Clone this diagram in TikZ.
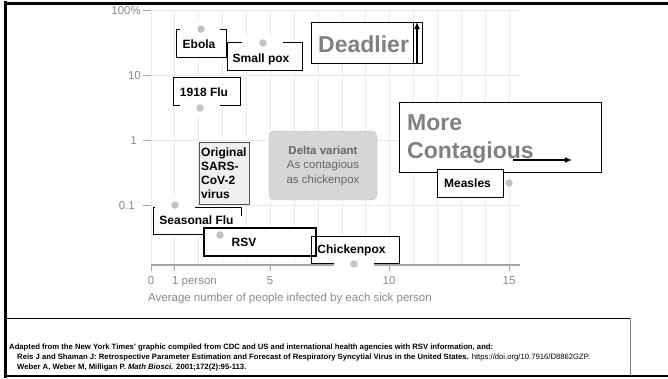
\documentclass[tikz,border=0pt]{standalone}
\usepackage{fontspec}
\setmainfont{Liberation Sans}
\usetikzlibrary{arrows.meta}
\definecolor{gridc}{HTML}{EBEBEB}
\definecolor{axisc}{HTML}{A5A5A5}
\definecolor{dotc}{HTML}{C2C2C2}
\definecolor{lblgray}{HTML}{808080}
\definecolor{axtxt}{HTML}{8A8A8A}
\definecolor{deltafill}{HTML}{D6D6D6}
\definecolor{deltaedge}{HTML}{B5B5B5}
\definecolor{deltatxt}{HTML}{666666}
\definecolor{sarsfill}{HTML}{EFEFEF}
\definecolor{sarsedge}{HTML}{555555}
\begin{document}
\begin{tikzpicture}[x=1pt,y=-1pt,
  lbl/.style={font=\bfseries\fontsize{12}{14}\selectfont, inner sep=0pt, anchor=base},
  labbox/.style={draw=black, fill=white, line width=0.9pt},
  dotpt/.style={circle, fill=dotc, minimum size=7.5pt, inner sep=0pt},
  patch/.style={fill=white, draw=none},
  big/.style={font=\bfseries\fontsize{23}{28}\selectfont, text=lblgray, inner sep=0pt, anchor=base west},
  axlab/.style={font=\fontsize{11.5}{13}\selectfont, text=axtxt, inner sep=0pt},
  cite/.style={font=\bfseries\fontsize{7.7}{9}\selectfont, inner sep=0pt, anchor=base west},
  bigarrow/.style={line width=2pt, -{Latex[length=7pt,width=6pt]}}
]
\useasboundingbox (0,0) rectangle (668,378);
\fill[white] (0,0) rectangle (668,378);

% grid
\foreach \k in {0,...,15} \draw[gridc, line width=0.8pt] ({151+23.87*\k},10) -- ({151+23.87*\k},265);
\foreach \y in {10,75,140,205} \draw[gridc, line width=0.8pt] (151,\y) -- (520,\y);
\foreach \y in {10,75,140,205} \draw[axisc, line width=0.8pt] (143,\y) -- (151,\y);
\draw[axisc, line width=1.5pt] (151,265) -- (520,265);
\foreach \v in {0,1,5,10,15} \draw[axisc, line width=1pt] ({151+23.87*\v},265) -- ({151+23.87*\v},271);

% axis labels
\node[axlab, anchor=base east] (y100) at (141,14.1) {100\%};
\node[axlab, anchor=base east] (y10) at (141,79.1) {10};
\node[axlab, anchor=base east] (y1) at (137,144.1) {1};
\node[axlab, anchor=base east] (y01) at (135,209.1) {0.1};
\node[axlab, anchor=base] (x0) at (151,284) {0};
\node[axlab, anchor=base] (x1) at (194.5,284) {1 person};
\node[axlab, anchor=base] (x5) at (270,284) {5};
\node[axlab, anchor=base] (x10) at (389,284) {10};
\node[axlab, anchor=base] (x15) at (509,284) {15};
\node[axlab, anchor=base] (xtitle) at (290,301) {Average number of people infected by each sick person};

% delta variant
\node[draw=deltaedge, dotted, line width=0.8pt, rounded corners=5pt, fill=deltafill,
      minimum width=108pt, minimum height=69pt, inner sep=0pt] (delta) at (323,165.5) {};
\node[font=\fontsize{11.5}{14.5}\selectfont, text=deltatxt, align=center, inner sep=0pt, anchor=north]
  (deltatext) at (323,145.6) {\textbf{Delta variant}\\As contagious\\as chickenpox};

% SARS box
\node[draw=sarsedge, fill=sarsfill, line width=0.8pt, minimum width=50pt, minimum height=62pt,
      inner sep=0pt, anchor=north west] (sarsbox) at (199,142) {};
\node[font=\bfseries\fontsize{12}{14}\selectfont, align=left, inner sep=0pt, anchor=north west]
  (sarstext) at (201,147.3) {Original\\SARS-\\CoV-2\\virus};

% label boxes
\draw[labbox] (176,29) rectangle (226,57);
\draw[labbox] (227,42) rectangle (302,70);
\draw[labbox] (173,77) rectangle (240,105);
\draw[labbox] (153,207) rectangle (241,234);
\fill[white] (311,236) rectangle (399,263);
\draw[labbox, line width=2.5pt] (204,228) rectangle (316,256);
\draw[black, line width=0.9pt] (311,236) rectangle (399,263);
\draw[labbox] (399,102) rectangle (601,172);
\draw[labbox] (437,169) rectangle (503,197);
\draw[labbox] (311,22) rectangle (413,63);
\draw[black, line width=0.6pt] (413,22) rectangle (422,63);

% white patches round dots
\fill[patch] (180,21) rectangle (220,37);
\fill[patch] (242,35) rectangle (283,51);
\fill[patch] (180,100) rectangle (220,116);
\fill[patch] (155,197) rectangle (195,213);
\fill[patch] (199,215.5) rectangle (243,226.6);
\fill[patch] (334,258) rectangle (374,272);

% dots
\node[dotpt] (debola) at (201,29) {};
\node[dotpt] (dpox) at (263,43) {};
\node[dotpt] (dflu18) at (200,108) {};
\node[dotpt] (dseas) at (175,205) {};
\node[dotpt] (drsv) at (220,235) {};
\node[dotpt] (dchick) at (354,264) {};
\node[dotpt] (dmeas) at (509,183) {};

% labels
\node[lbl] (ebola) at (199,48) {Ebola};
\node[lbl] (pox) at (261,62) {Small pox};
\node[lbl] (flu18) at (204,96) {1918 Flu};
\node[lbl] (seas) at (196.5,224) {Seasonal Flu};
\node[lbl] (rsv) at (244,246) {RSV};
\node[lbl] (chick) at (351.5,253) {Chickenpox};
\node[lbl] (meas) at (467.5,187) {Measles};

\node[big] (deadlier) at (318,52) {Deadlier};
\node[big] (more) at (407,130) {More};
\node[big] (contag) at (407,158) {Contagious};

% arrows
\coordinate (upa) at (417,63);
\coordinate (upb) at (417,22);
\draw[bigarrow] (upa) -- (upb);
\coordinate (ra) at (513,160);
\coordinate (rb) at (572,160);
\draw[bigarrow] (ra) -- (rb);

% citation box
\draw[black, line width=0.9pt] (5,318) -- (630,318);
\draw[gray, line width=0.9pt] (630,318) -- (630,376);
\node[cite] (c1) at (9,349.5) {Adapted from the New York Times' graphic compiled from CDC and US and international health agencies with RSV information, and:};
\node[cite] (c2) at (17,359.5) {Reis J and Shaman J: Retrospective Parameter Estimation and Forecast of Respiratory Syncytial Virus in the United States. {\mdseries https://doi.org/10.7916/D8862GZP.}};
\node[cite] (c3) at (17,369) {Weber A, Weber M, Milligan P. \textit{Math Biosci.} 2001;172(2):95-113.};

% outer frame
\draw[black, line width=3pt] (5,1) -- (5,378);
\draw[black, line width=3pt] (3.5,3) -- (668,3);
\draw[black, line width=2.5pt] (3.5,376) -- (668,376);
\end{tikzpicture}
\end{document}
